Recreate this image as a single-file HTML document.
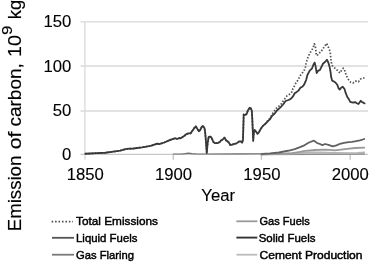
<!DOCTYPE html>
<html><head><meta charset="utf-8"><style>
html,body{margin:0;padding:0;background:#fff;}
svg{display:block;filter:blur(0.35px);}
.tk{font-family:"Liberation Sans",Arial,sans-serif;font-size:16.7px;fill:#000;stroke:#000;stroke-width:0.12px;}
.yl{font-family:"Liberation Sans",Arial,sans-serif;font-size:18px;fill:#000;stroke:#000;stroke-width:0.15px;}
.lg{font-family:"Liberation Sans",Arial,sans-serif;font-size:11.6px;fill:#000;stroke:#000;stroke-width:0.45px;}
</style></head><body>
<svg width="369" height="263" viewBox="0 0 369 263">
<rect width="369" height="263" fill="#fff"/>
<g stroke="#d9d9d9" stroke-width="1.3" fill="none">
<line x1="80.5" y1="21.9" x2="368" y2="21.9"/>
<line x1="80.5" y1="66.0" x2="368" y2="66.0"/>
<line x1="80.5" y1="111.0" x2="368" y2="111.0"/>
<line x1="80.5" y1="154.4" x2="368" y2="154.4" stroke="#c8c8c8"/>
<line x1="84.9" y1="21.9" x2="84.9" y2="159.7"/>
<line x1="173.3" y1="154.5" x2="173.3" y2="159.8" stroke="#c0c0c0"/>
<line x1="261.4" y1="154.5" x2="261.4" y2="159.8" stroke="#c0c0c0"/>
<line x1="350.2" y1="154.5" x2="350.2" y2="159.8" stroke="#c0c0c0"/>
</g>
<g class="tk">
<text x="71.3" y="27.4" text-anchor="end">150</text>
<text x="71.3" y="71.7" text-anchor="end">100</text>
<text x="71.3" y="116.0" text-anchor="end">50</text>
<text x="71.3" y="160.2" text-anchor="end">0</text>
<text x="85.3" y="179.8" text-anchor="middle">1850</text>
<text x="173.6" y="179.8" text-anchor="middle">1900</text>
<text x="261.9" y="179.8" text-anchor="middle">1950</text>
<text x="350.2" y="179.8" text-anchor="middle">2000</text>
<text x="218.2" y="200.6" text-anchor="middle">Year</text>
</g>
<g class="yl">
<text transform="translate(20.6,231.2) rotate(-90)" textLength="75.5" lengthAdjust="spacingAndGlyphs">Emission</text>
<text transform="translate(20.6,149.3) rotate(-90)" textLength="17.6" lengthAdjust="spacingAndGlyphs">of</text>
<text transform="translate(20.6,126.6) rotate(-90)" textLength="63.5" lengthAdjust="spacingAndGlyphs">carbon,</text>
<text transform="translate(20.6,57.0) rotate(-90)" textLength="22" lengthAdjust="spacingAndGlyphs">10</text>
<text transform="translate(11.6,35.0) rotate(-90)" style="font-size:15.4px" textLength="9.4" lengthAdjust="spacingAndGlyphs">9</text>
<text transform="translate(20.6,19.3) rotate(-90)" textLength="19.5" lengthAdjust="spacingAndGlyphs">kg</text>
</g>
<g fill="none" stroke-linejoin="round" stroke-linecap="round">
<polyline points="261.00,154.40 364.30,154.00" stroke="#8c8c8c" stroke-width="1.5"/>
<polyline points="261.00,154.30 295.00,153.30 310.00,152.40 320.00,152.30 335.00,152.80 350.00,153.10 358.00,152.80 364.30,152.30" stroke="#b4b4b4" stroke-width="1.8"/>
<polyline points="261.00,154.30 285.00,153.60 292.00,153.20 300.00,151.80 305.00,150.90 315.00,150.00 325.00,149.60 330.00,149.80 335.00,150.40 345.00,149.10 355.00,148.00 364.30,147.70" stroke="#999" stroke-width="1.8"/>
<polyline points="173.30,154.00 182.00,153.90 185.00,153.60 188.60,153.10 192.00,153.60 196.00,153.90 205.00,154.00 240.00,153.90 262.00,153.80" stroke="#707070" stroke-width="1.1"/>
<polyline points="262.00,153.80 270.00,153.30 279.00,152.50 286.60,151.00 290.00,150.40 294.80,149.10 300.00,147.10 304.30,145.30 309.00,142.50 314.00,140.60 317.10,143.00 319.50,143.80 322.30,145.10 325.10,144.00 328.50,144.90 332.70,146.30 336.50,145.40 340.00,143.80 344.00,142.80 348.80,142.20 352.00,141.90 356.00,141.20 360.00,140.30 364.30,139.00" stroke="#606060" stroke-width="1.8"/>
<polyline points="85.25,153.75 96.50,153.10 105.25,152.75 111.50,151.90 120.25,150.60 126.50,148.90 133.50,148.50 142.10,147.30 150.60,145.90 157.50,143.70 159.20,144.20 164.30,142.50 170.30,139.90 175.40,138.20 177.10,139.00 179.20,138.00 180.60,138.30 182.70,136.90 184.80,135.50 186.30,134.10 188.40,133.40 190.50,133.40 192.60,130.50 194.00,128.40 195.80,126.30 197.50,129.10 198.90,131.30 200.30,129.80 201.70,127.00 202.90,125.90 204.50,128.20 205.20,132.70 205.90,141.00 206.75,153.00 207.70,142.50 208.70,136.90 210.10,136.60 211.50,137.60 213.40,142.00 214.80,143.10 217.60,143.20 219.70,142.00 221.10,140.40 222.50,139.70 224.60,137.60 226.00,140.40 227.40,141.10 228.80,142.50 230.30,145.00 231.80,144.70 233.70,144.20 235.60,143.70 237.50,142.70 239.40,141.30 240.80,141.30 242.10,142.70 243.00,139.40 243.70,114.50 245.10,115.00 246.60,114.00 248.00,110.20 249.70,107.70 250.80,108.30 251.80,110.70 252.30,119.30 253.20,140.80 253.70,133.70 254.60,129.90 256.10,131.80 257.50,133.70 258.90,132.30 260.50,129.20 262.80,126.00 265.60,123.40 268.00,120.00 270.00,118.30 273.10,112.60 275.50,109.70 277.40,106.90 279.30,105.90 281.20,104.00 282.60,101.70 283.80,100.50 285.20,98.10 287.10,95.70 289.50,94.30 291.90,91.90 292.80,89.00 294.30,86.20 295.70,83.30 297.60,80.50 298.80,78.30 300.70,75.00 302.60,72.60 304.50,69.70 305.50,66.90 305.90,64.00 306.90,60.70 307.80,57.90 308.80,55.40 310.30,52.50 311.90,50.10 313.30,47.30 314.10,43.90 315.00,44.90 315.50,47.70 315.90,51.10 316.20,53.90 317.10,55.80 318.60,53.50 320.90,52.00 322.60,49.20 324.50,46.50 326.60,43.40 328.20,46.80 329.50,49.90 330.30,53.00 330.70,56.80 331.00,59.70 331.40,62.50 331.90,65.20 333.60,67.30 336.40,69.20 338.30,71.60 339.90,73.00 341.60,70.30 343.30,68.20 344.90,71.00 345.90,74.00 347.10,77.00 348.70,79.90 350.70,82.30 353.00,83.00 355.40,81.10 358.50,81.80 360.20,79.20 362.10,78.30 364.50,78.00" stroke="#505050" stroke-width="1.7" stroke-dasharray="1.5 1.7" stroke-linecap="butt"/>
<polyline points="85.25,153.75 96.50,153.10 105.25,152.75 111.50,151.90 120.25,150.60 126.50,148.90 133.50,148.50 142.10,147.30 150.60,145.90 157.50,143.70 159.20,144.20 164.30,142.50 170.30,139.90 175.40,138.20 177.10,139.00 179.20,138.00 180.60,138.30 182.70,136.90 184.80,135.50 186.30,134.10 188.40,133.40 190.50,133.40 192.60,130.50 194.00,128.40 195.80,126.30 197.50,129.10 198.90,131.30 200.30,129.80 201.70,127.00 202.90,125.90 204.50,128.20 205.20,132.70 205.90,141.00 206.75,153.00 207.70,142.50 208.70,136.90 210.10,136.60 211.50,137.60 213.40,142.00 214.80,143.10 217.60,143.20 219.70,142.00 221.10,140.40 222.50,139.70 224.60,137.60 226.00,140.40 227.40,141.10 228.80,142.50 230.30,145.00 231.80,144.70 233.70,144.20 235.60,143.70 237.50,142.70 239.40,141.30 240.80,141.30 242.10,142.70 243.00,139.40 243.70,114.50 245.10,115.00 246.60,114.00 248.00,110.20 249.70,107.70 250.80,108.30 251.80,110.70 252.30,119.30 253.20,140.80 253.70,133.70 254.60,129.90 256.10,131.80 257.50,133.70 258.90,132.30 260.50,129.20 262.80,126.00 265.60,123.60 268.40,120.60 270.00,119.20 272.10,115.70 274.50,113.80 277.20,110.20 280.20,107.60 283.10,104.50 285.60,101.00 288.60,100.00 290.80,98.80 292.80,96.70 294.70,93.30 296.70,91.90 298.60,90.50 300.50,87.60 302.40,86.70 303.80,85.20 305.30,82.00 306.20,79.80 307.40,75.00 309.70,70.70 312.10,68.30 313.50,64.50 314.70,62.60 315.60,66.40 316.70,73.00 318.30,70.60 319.80,70.10 321.20,67.30 323.10,63.50 325.00,62.00 326.90,59.70 328.30,62.50 329.70,67.30 330.70,73.00 331.10,76.80 332.10,80.60 333.50,81.30 335.40,82.50 337.30,84.80 338.70,88.70 339.70,89.60 341.10,87.70 342.80,86.70 344.50,89.10 345.70,92.90 347.30,97.00 348.70,98.90 350.20,101.80 352.10,102.30 353.50,102.70 355.10,102.10 356.80,103.20 358.50,104.00 359.70,102.30 360.80,100.80 362.10,102.10 363.50,102.70 364.60,103.40" stroke="#383838" stroke-width="1.8"/>
</g>
<g fill="none">
<line x1="51.6" y1="221.6" x2="73" y2="221.6" stroke="#505050" stroke-width="1.7" stroke-dasharray="1.6 1.85"/>
<line x1="52" y1="237.8" x2="74" y2="237.8" stroke="#555" stroke-width="1.8"/>
<line x1="52" y1="254.7" x2="74" y2="254.7" stroke="#7a7a7a" stroke-width="1.8"/>
<line x1="236.4" y1="221.3" x2="257.3" y2="221.3" stroke="#999" stroke-width="1.8"/>
<line x1="236.4" y1="237.6" x2="257.3" y2="237.6" stroke="#333" stroke-width="1.9"/>
<line x1="236.4" y1="254.7" x2="257.3" y2="254.7" stroke="#bbb" stroke-width="1.8"/>
</g>
<g class="lg">
<text x="76" y="225.1" textLength="82" lengthAdjust="spacingAndGlyphs">Total Emissions</text>
<text x="76" y="241.9" textLength="61.5" lengthAdjust="spacingAndGlyphs">Liquid Fuels</text>
<text x="76" y="259.2" textLength="58" lengthAdjust="spacingAndGlyphs">Gas Flaring</text>
<text x="259.5" y="224.8" textLength="50.3" lengthAdjust="spacingAndGlyphs">Gas Fuels</text>
<text x="258.7" y="241.8" textLength="56.8" lengthAdjust="spacingAndGlyphs">Solid Fuels</text>
<text x="259.5" y="258.8" textLength="103" lengthAdjust="spacingAndGlyphs">Cement Production</text>
</g>
</svg>
</body></html>
